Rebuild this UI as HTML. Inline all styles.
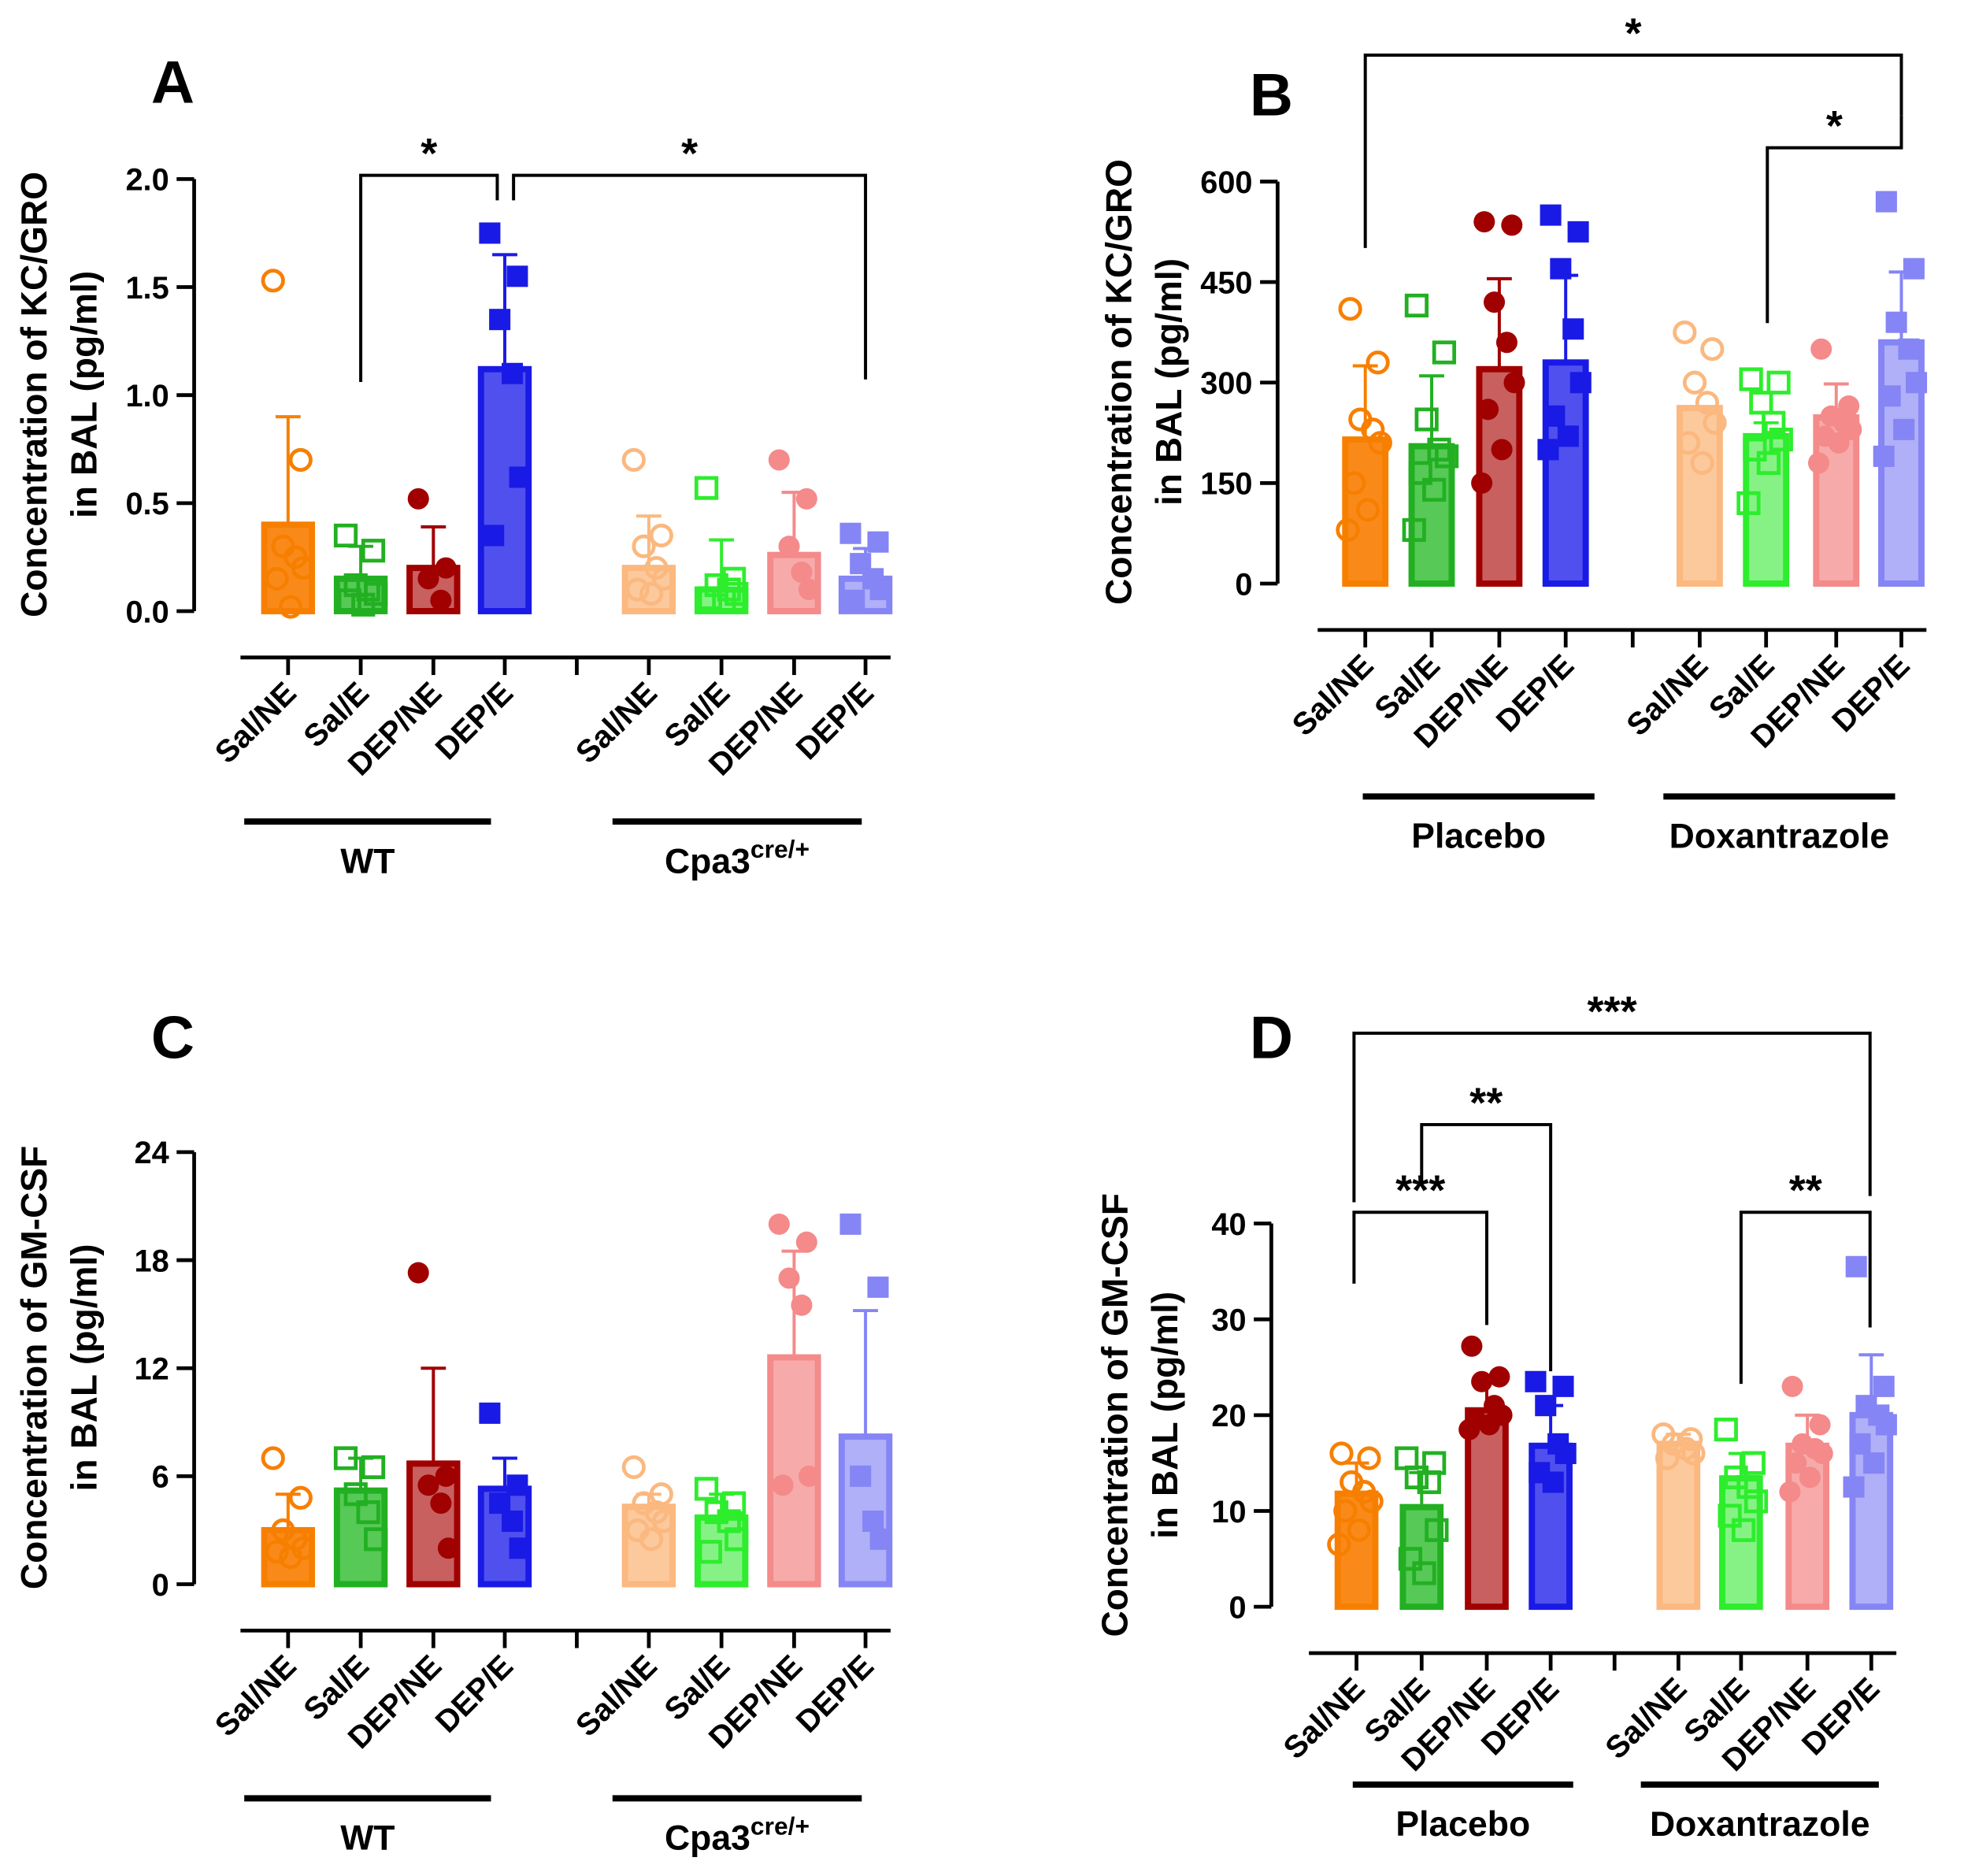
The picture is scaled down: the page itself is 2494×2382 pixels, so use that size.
<!DOCTYPE html>
<html><head><meta charset="utf-8"><style>
html,body{margin:0;padding:0;background:#fff}
svg{display:block}
text{font-family:"Liberation Sans",Arial,sans-serif;font-weight:bold;fill:#000}
</style></head><body>
<svg id="fig" width="2494" height="2382" viewBox="0 0 1568 1498" preserveAspectRatio="none" xmlns="http://www.w3.org/2000/svg"></svg>
<script>
const categories = ["Sal/NE","Sal/E","DEP/NE","DEP/E"];
// Panel A
const aTicks = [0,0.5,1.0,1.5,2.0];
const aTickLabels = ["0.0","0.5","1.0","1.5","2.0"];
const aMeans = [0.4,0.15,0.2,1.12,0.2,0.1,0.26,0.15];
const aErr = [0.9,0.3,0.39,1.65,0.44,0.33,0.55,0.29];
const aPts = [[1.53,0.7,0.3,0.25,0.2,0.15,0.02],[0.35,0.28,0.12,0.1,0.08,0.05,0.03],[0.52,0.2,0.15,0.05],[1.75,1.55,1.35,1.1,0.62,0.35],
 [0.7,0.35,0.3,0.2,0.15,0.1,0.08],[0.57,0.15,0.12,0.1,0.08,0.06,0.05],[0.7,0.52,0.3,0.18,0.1],[0.36,0.32,0.22,0.15,0.1,0.05]];
// Panel B
const bTicks = [0,150,300,450,600];
const bTickLabels = ["0","150","300","450","600"];
const bMeans = [215,205,320,330,262,220,248,360];
const bErr = [325,310,455,460,262,240,298,465];
const bPts = [[410,330,245,230,210,150,110,80],[415,345,245,200,190,165,140,80],[540,535,420,360,300,260,200,150],[550,525,470,380,300,250,220,200],
 [375,350,300,270,240,210,180],[305,300,270,240,215,200,180,120],[350,265,250,240,230,220,210,180],[570,470,390,350,300,280,230,190]];
// Panel C
const cTicks = [0,6,12,18,24];
const cTickLabels = ["0","6","12","18","24"];
const cMeans = [3.0,5.2,6.7,5.3,4.3,3.7,12.6,8.2];
const cErr = [5,7,12,7,5,5,18.5,15.2];
const cPts = [[7,4.8,3,2.5,2,1.8,1.5],[7,6.5,5,4,2.5],[17.3,6,5.5,4.5,2],[9.5,5.5,4.5,3.5,2],
 [6.5,5,4.5,4,3.5,3,2.5],[5.3,4.5,4,3.5,2.5,1.8],[20,19,17,15.5,6,5.5],[20,16.5,6,3.5,2.5]];
// Panel D
const dTicks = [0,10,20,30,40];
const dTickLabels = ["0","10","20","30","40"];
const dMeans = [11.8,10.4,20.5,16.8,17,13.4,16.8,20];
const dErr = [15,14,24,21,18,16,20,26.3];
const dPts = [[16,15.5,13,12,11,10,8,6.5],[15.5,15,13.5,13,8,5,3.5],[27.2,24,23.5,21,20,19.5,19,18.5],[23.5,23,21,17,16,14,13],
 [18,17.5,17,16.5,16,15.5],[18.5,15,13.5,12.5,11,9.5,8],[23,19,17,16.5,16,15,13.5,12],[35.5,23,21,20,19,17,15,12.5]];

const SV="http://www.w3.org/2000/svg";
const svg=document.getElementById('fig');
function el(tag,attrs,parent,txt){const e=document.createElementNS(SV,tag);for(const k in attrs)e.setAttribute(k,attrs[k]);if(txt!==undefined)e.textContent=txt;(parent||svg).appendChild(e);return e;}
const strokeC=["#f77f00","#22b022","#a00000","#1a1ae6","#fbb87f","#2ded2d","#f48a8a","#8585f5"];
const fillC=["#f98a1a","#57c957","#c86060","#5050ee","#fcc99d","#86f286","#f7aaaa","#b0b0f8"];
const shapes=["oc","os","fc","fs","oc","os","fc","fs"];
const jit=[-12,10,-4,6,12,-9,2,-14,8];

function panel(p){
  const g=el('g',{});
  
  
  const y=v=>p.y0+(p.y1-p.y0)*(v-p.ticks[0])/(p.ticks[p.ticks.length-1]-p.ticks[0]);
  const L=el('text',{x:p.letter[0],y:p.letter[1],'font-size':48,'text-anchor':'middle'},g,p.letterT);
  
  const ya=el('line',{x1:p.ax,x2:p.ax,y1:y(p.ticks[p.ticks.length-1]),y2:y(0),stroke:'#000','stroke-width':3},g);
  
  p.ticks.forEach((t,i)=>{
    el('line',{x1:p.ax-14,x2:p.ax,y1:y(t),y2:y(t),stroke:'#000','stroke-width':3},g);
    const tl=el('text',{x:p.ax-20,y:y(t)+9,'font-size':25,'text-anchor':'end'},g,p.labels[i]);
    
  });
  const yt=el('text',{transform:`translate(${p.titleX},${p.titleY}) rotate(-90)`,'font-size':29,'text-anchor':'middle'},g);
  
  el('tspan',{x:0,dy:0},yt,p.title1);el('tspan',{x:0,dy:40},yt,"in BAL (pg/ml)");
  const xa=el('line',{x1:p.xs[0]-38,x2:p.xs[7]+20,y1:p.xaY,y2:p.xaY,stroke:'#000','stroke-width':3},g);
  
  const mid=(p.xs[3]+p.xs[4])/2;
  el('line',{x1:mid,x2:mid,y1:p.xaY,y2:p.xaY+14,stroke:'#000','stroke-width':3},g);
  p.xs.forEach((x,i)=>{
    el('line',{x1:x,x2:x,y1:p.xaY,y2:p.xaY+14,stroke:'#000','stroke-width':3},g);
    const xl=el('text',{transform:`translate(${x+8},${p.xaY+30}) rotate(-45)`,'font-size':25,'text-anchor':'end'},g,categories[i%4]);
    
    const v=p.means[i];
    const bw=p.bw;
    const bar=el('rect',{x:x-bw/2,y:y(v),width:bw,height:y(0)-y(v),fill:fillC[i],stroke:strokeC[i],'stroke-width':5},g);
    
    
    el('line',{x1:x,x2:x,y1:y(v),y2:y(p.err[i]),stroke:strokeC[i],'stroke-width':2.5},g);
    el('line',{x1:x-10,x2:x+10,y1:y(p.err[i]),y2:y(p.err[i]),stroke:strokeC[i],'stroke-width':2.5},g);
    p.pts[i].forEach((pv,j)=>{
      const px=x+jit[j%jit.length],py=y(pv);const s=shapes[i];let m;
      if(s==='oc')m=el('circle',{cx:px,cy:py,r:8,fill:'none',stroke:strokeC[i],'stroke-width':3},g);
      else if(s==='fc')m=el('circle',{cx:px,cy:py,r:8.5,fill:strokeC[i]},g);
      else if(s==='os')m=el('rect',{x:px-8,y:py-8,width:16,height:16,fill:'none',stroke:strokeC[i],'stroke-width':3},g);
      else m=el('rect',{x:px-8.5,y:py-8.5,width:17,height:17,fill:strokeC[i]},g);
      
    });
  });
  p.groups.forEach(gr=>{
    const gl=el('line',{x1:gr[0],x2:gr[1],y1:p.gY,y2:p.gY,stroke:'#000','stroke-width':5},g);
    
    const t=el('text',{x:(gr[0]+gr[1])/2,y:p.gY+41,'font-size':28,'text-anchor':'middle'},g);
    
    if(gr[2]==='Cpa3'){t.textContent='Cpa3';el('tspan',{dy:-12,'font-size':20},t,'cre/+');}
    else t.textContent=gr[2];
  });
  p.sig.forEach(s=>{
    const br=el('path',{d:`M${s[0]},${s[1]} V${s[4]} H${s[2]} V${s[3]}`,fill:'none',stroke:'#000','stroke-width':2.5},g);
    
    const st=el('text',{x:(s[0]+s[2])/2,y:s[4]-6,'font-size':34,'text-anchor':'middle'},g,s[5]);
    
  });
}
panel({name:'panel-a',letterT:'A',letter:[138,82],ax:155,y0:488,y1:143,ticks:aTicks,labels:aTickLabels,title1:'Concentration of KC/GRO',titleX:37,titleY:315,
 xs:[230,288,346,403,518,576,634,691],bw:38,means:aMeans,err:aErr,pts:aPts,xaY:525,gY:656,
 groups:[[195,392,'WT'],[489,688,'Cpa3']],
 sig:[[288,305,397,160,140,'*'],[410,160,691,303,140,'*']]});
panel({name:'panel-b',letterT:'B',letter:[1015,92],ax:1020,y0:466,y1:145,ticks:bTicks,labels:bTickLabels,title1:'Concentration of KC/GRO',titleX:903,titleY:305,
 xs:[1090,1143,1197,1250,1357,1410,1466,1518],bw:32,means:bMeans,err:bErr,pts:bPts,xaY:503,gY:636,
 groups:[[1088,1273,'Placebo'],[1328,1513,'Doxantrazole']],
 sig:[[1090,198,1518,92,44,'*'],[1411,258,1518,92,118,'*']]});
panel({name:'panel-c',letterT:'C',letter:[138,845],ax:155,y0:1265,y1:920,ticks:cTicks,labels:cTickLabels,title1:'Concentration of GM-CSF',titleX:37,titleY:1092,
 xs:[230,288,346,403,518,576,634,691],bw:38,means:cMeans,err:cErr,pts:cPts,xaY:1302,gY:1436,
 groups:[[195,392,'WT'],[489,688,'Cpa3']],sig:[]});
panel({name:'panel-d',letterT:'D',letter:[1015,845],ax:1015,y0:1283,y1:977,ticks:dTicks,labels:dTickLabels,title1:'Concentration of GM-CSF',titleX:900,titleY:1130,
 xs:[1083,1135,1187,1238,1340,1390,1443,1494],bw:30,means:dMeans,err:dErr,pts:dPts,xaY:1320,gY:1425,
 groups:[[1080,1256,'Placebo'],[1310,1500,'Doxantrazole']],
 sig:[[1081,960,1493,955,825,'***'],[1135,945,1238,1095,898,'**'],[1081,1025,1187,1058,968,'***'],[1390,1105,1493,1060,968,'**']]});
</script>
</body></html>
